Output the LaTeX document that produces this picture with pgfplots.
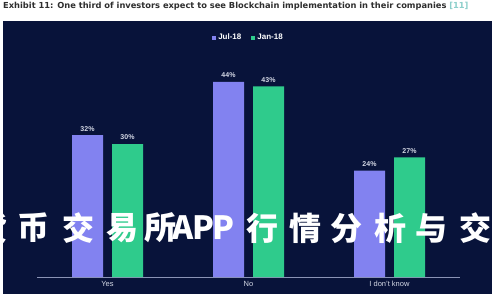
\documentclass[border=0pt]{standalone}
\usepackage{pgfplots}
\pgfplotsset{compat=1.18}
\usepackage{fontspec}
\setmainfont{Liberation Sans}
\newfontfamily\titlefont{DejaVu Sans}
\newfontfamily\cjk{Noto Sans CJK SC Black}
\definecolor{panel}{HTML}{08133A}
\definecolor{jul}{HTML}{8282F0}
\definecolor{jan}{HTML}{2FCB8C}
\definecolor{titlec}{HTML}{2E2E2E}
\definecolor{refc}{HTML}{8CCFCB}
\definecolor{axc}{HTML}{8A93B5}
\definecolor{lab}{HTML}{D5D9E6}
\begin{document}
\begin{tikzpicture}[x=1pt,y=1pt]
\clip (0,0) rectangle (500,300);
\fill[white] (0,0) rectangle (500,300);
\fill[panel] (3,6) rectangle (492,279);
\node[anchor=west,font=\titlefont\bfseries\fontsize{8.3}{10}\selectfont,text=titlec,inner sep=0pt] at (3,294)
  {Exhibit 11: One third of investors expect to see Blockchain implementation in their companies \textcolor{refc}{[11]}};
\begin{axis}[
  at={(37pt,23pt)}, anchor=south west,
  scale only axis, width=423pt, height=221.6pt,
  xmin=-0.5, xmax=2.5, ymin=0, ymax=50,
  axis x line=bottom, axis y line=none,
  x axis line style={draw=axc,-,line width=0.6pt},
  xtick={0,1,2}, xticklabels={Yes,No,I don't know},
  major tick length=0pt,
  /pgf/number format/assume math mode=true,
  xticklabel style={font=\fontsize{7.5}{9}\selectfont,text=lab,yshift=-0.5pt},
  ybar, bar width=31pt,
  nodes near coords={\pgfmathprintnumber\pgfplotspointmeta\%},
  every node near coord/.append style={font=\bfseries\fontsize{7}{8}\selectfont,text=lab,yshift=0.5pt},
  legend style={at={(0.5,1)},anchor=south,yshift=10pt,draw=none,fill=none,
    text=white,font=\bfseries\fontsize{8}{9}\selectfont,legend columns=2,
    /tikz/every even column/.append style={column sep=8pt}},
  legend image code/.code={\fill[#1] (0pt,-2pt) rectangle (4pt,2pt);},
]
\addplot[fill=jul,draw=none,bar shift=-20pt] coordinates {(0,32) (1,44) (2,24)};
\addplot[fill=jan,draw=none,bar shift=20pt] coordinates {(0,30) (1,43) (2,27)};
\legend{Jul-18,Jan-18}
\end{axis}
\foreach \c/\x in {货/-8,币/33,交/78,易/122,所/160,A/183,P/203,P/223,行/262,情/305,分/346,析/390,与/431,交/475}
  \node[text=white,font=\cjk\fontsize{32}{34}\selectfont,inner sep=0pt] at (\x,72) {\c};
\end{tikzpicture}
\end{document}
